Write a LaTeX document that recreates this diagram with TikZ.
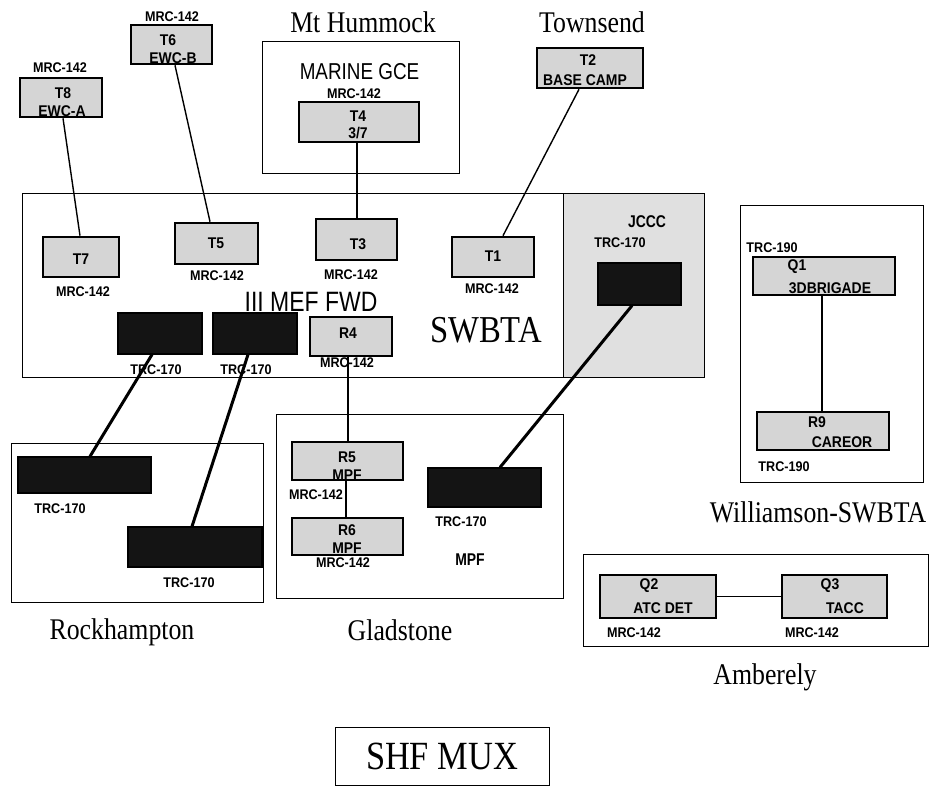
\documentclass[tikz,border=0pt]{standalone}
\usepackage{fontspec}
\setmainfont{Liberation Serif}
\setsansfont{Liberation Sans}
\newfontfamily\ttlfont[FakeStretch=0.86]{Liberation Serif}
\newfontfamily\lblfont[FakeStretch=0.9]{Liberation Sans}
\newfontfamily\bigsans[FakeStretch=0.82]{Liberation Sans}
\begin{document}
\begin{tikzpicture}[x=1pt,y=-1pt,
  gbox/.style={draw, line width=2.6pt, fill=gray!33, inner sep=0pt},
  dbox/.style={draw, line width=1.2pt, fill=black!92, inner sep=0pt},
  cont/.style={draw, line width=0.9pt, inner sep=0pt},
  jbox/.style={draw, line width=0.9pt, fill=gray!24, inner sep=0pt},
  lbl/.style={font=\lblfont\bfseries\fontsize{14}{16}\selectfont, inner sep=0pt},
  blbl/.style={font=\lblfont\bfseries\fontsize{15.5}{17}\selectfont, inner sep=0pt},
  ttl/.style={font=\ttlfont\fontsize{30}{32}\selectfont, inner sep=0pt},
  thinln/.style={line width=1.4pt},
  thickln/.style={line width=3pt}]
\useasboundingbox (0,0) rectangle (936,786);

% containers
\node[cont, minimum width=541pt, minimum height=184pt] (swbta) at (292.5,285) {};
\node[jbox, minimum width=141pt, minimum height=184pt] (jccc) at (633.5,285) {};
\node[cont, minimum width=197pt, minimum height=132pt] (mthum) at (360.5,107) {};
\node[cont, minimum width=183pt, minimum height=277pt] (will) at (831.5,343.5) {};
\node[cont, minimum width=252pt, minimum height=159pt] (rock) at (137,522.5) {};
\node[cont, minimum width=287pt, minimum height=184pt] (glad) at (419.5,506) {};
\node[cont, minimum width=345pt, minimum height=92pt] (amb) at (755.5,600) {};
\node[cont, minimum width=214pt, minimum height=58pt, font=\ttlfont\fontsize{40}{42}\selectfont] (shf) at (442,756) {SHF MUX};

% titles
\node[ttl] (tmt) at (363,22) {Mt Hummock};
\node[ttl] (ttown) at (592,22) {Townsend};
\node[ttl] (twill) at (818,512) {Williamson-SWBTA};
\node[ttl] (trock) at (122,632) {Rockhampton};
\node[ttl] (tglad) at (400,630) {Gladstone};
\node[ttl] (tamb) at (765,677) {Amberely};
\node[font=\ttlfont\fontsize{38}{40}\selectfont, inner sep=0pt] (tswbta) at (486,330) {SWBTA};
\node[font=\bigsans\fontsize{28}{30}\selectfont, inner sep=0pt] (tmef) at (311,302) {III MEF FWD};
\node[font=\bigsans\fontsize{23}{25}\selectfont, inner sep=0pt] (tgce) at (359.5,72) {MARINE GCE};
\node[font=\bigsans\bfseries\fontsize{17}{19}\selectfont, inner sep=0pt] (tjccc) at (647,222) {JCCC};
\node[font=\bigsans\bfseries\fontsize{17}{19}\selectfont, inner sep=0pt] (tmpf) at (470,560) {MPF};

% gray terminal boxes
\node[gbox, minimum width=82pt, minimum height=39pt] (t8) at (61,97.5) {};
\node[gbox, minimum width=81pt, minimum height=39pt] (t6) at (171.5,44.5) {};
\node[gbox, minimum width=120pt, minimum height=40pt] (t4) at (359,122) {};
\node[gbox, minimum width=106pt, minimum height=40pt] (t2) at (590,68) {};
\node[gbox, minimum width=76pt, minimum height=40pt] (t7) at (81,257) {};
\node[gbox, minimum width=83pt, minimum height=41pt] (t5) at (216.5,243.5) {};
\node[gbox, minimum width=81pt, minimum height=41pt] (t3) at (356.5,239.5) {};
\node[gbox, minimum width=82pt, minimum height=40pt] (t1) at (493,257) {};
\node[gbox, minimum width=82pt, minimum height=39pt] (r4) at (351,336.5) {};
\node[gbox, minimum width=142pt, minimum height=38pt] (q1) at (824,276) {};
\node[gbox, minimum width=132pt, minimum height=38pt] (r9) at (823,431) {};
\node[gbox, minimum width=111pt, minimum height=38pt] (r5) at (347.5,461) {};
\node[gbox, minimum width=111pt, minimum height=37pt] (r6) at (347.5,536.5) {};
\node[gbox, minimum width=116pt, minimum height=43pt] (q2) at (658,596.5) {};
\node[gbox, minimum width=105pt, minimum height=43pt] (q3) at (834.5,596.5) {};

% dark TRC-170 boxes
\node[dbox, minimum width=84pt, minimum height=41pt] (d1) at (160,333.5) {};
\node[dbox, minimum width=84pt, minimum height=41pt] (d2) at (255,333.5) {};
\node[dbox, minimum width=83pt, minimum height=42pt] (dj) at (639.5,284) {};
\node[dbox, minimum width=133pt, minimum height=36pt] (rd1) at (84.5,475) {};
\node[dbox, minimum width=134pt, minimum height=40pt] (rd2) at (195,547) {};
\node[dbox, minimum width=113pt, minimum height=39pt] (gd) at (484.5,487.5) {};

% texts inside boxes
\node[blbl] (t8a) at (63,93) {T8};
\node[blbl] (t8b) at (62,111) {EWC-A};
\node[blbl] (t6a) at (168,40) {T6};
\node[blbl] (t6b) at (173,58) {EWC-B};
\node[blbl] (t4a) at (358,116) {T4};
\node[blbl] (t4b) at (358,133) {3/7};
\node[blbl] (t2a) at (588,60) {T2};
\node[blbl] (t2b) at (585,80) {BASE CAMP};
\node[blbl] (t7a) at (81,259) {T7};
\node[blbl] (t5a) at (216,243) {T5};
\node[blbl] (t3a) at (358,244) {T3};
\node[blbl] (t1a) at (493,256) {T1};
\node[blbl] (r4a) at (348,333) {R4};
\node[blbl] (q1a) at (797,267) {Q1};
\node[blbl] (q1b) at (830,288) {3DBRIGADE};
\node[blbl] (r9a) at (817,422) {R9};
\node[blbl] (r9b) at (842,442) {CAREOR};
\node[blbl] (r5a) at (347,457) {R5};
\node[blbl] (r5b) at (347,475) {MPF};
\node[blbl] (r6a) at (347,530) {R6};
\node[blbl] (r6b) at (347,548) {MPF};
\node[blbl] (q2a) at (649,586) {Q2};
\node[blbl] (q2b) at (663,608) {ATC DET};
\node[blbl] (q3a) at (830,586) {Q3};
\node[blbl] (q3b) at (845,608) {TACC};

% equipment labels
\node[lbl] (l8) at (60,68) {MRC-142};
\node[lbl] (l6) at (172,17) {MRC-142};
\node[lbl] (l4) at (354,94) {MRC-142};
\node[lbl] (l7) at (83,292) {MRC-142};
\node[lbl] (l5) at (217,276) {MRC-142};
\node[lbl] (l3) at (351,275) {MRC-142};
\node[lbl] (l1) at (492,289) {MRC-142};
\node[lbl] (ld1) at (156,370) {TRC-170};
\node[lbl] (ld2) at (246,370) {TRC-170};
\node[lbl] (lr4) at (347,363) {MRC-142};
\node[lbl] (ldj) at (620,243) {TRC-170};
\node[lbl] (lq1) at (772,248) {TRC-190};
\node[lbl] (lr9) at (784,467) {TRC-190};
\node[lbl] (lrd1) at (60,509) {TRC-170};
\node[lbl] (lrd2) at (189,583) {TRC-170};
\node[lbl] (lr5) at (316,495) {MRC-142};
\node[lbl] (lr6) at (343,563) {MRC-142};
\node[lbl] (lgd) at (461,522) {TRC-170};
\node[lbl] (lq2) at (634,633) {MRC-142};
\node[lbl] (lq3) at (812,633) {MRC-142};

% connectors
\draw[thinln] ([xshift=2pt]t8.south) -- ([xshift=-1pt]t7.north);
\draw[thinln] ([xshift=3.5pt]t6.south) -- ([xshift=-6.5pt]t5.north);
\draw[thinln] ([xshift=-2pt]t4.south) -- ([xshift=0.5pt]t3.north);
\draw[thinln] ([xshift=-11pt]t2.south) -- ([xshift=10pt]t1.north);
\draw[thinln] ([xshift=-3pt]r4.south) -- ([xshift=0.5pt]r5.north);
\draw[thinln] ([xshift=-1.5pt]r5.south) -- ([xshift=-1.5pt]r6.north);
\draw[thinln] ([xshift=-2pt]q1.south) -- ([xshift=-1pt]r9.north);
\draw[thinln] (q2.east) -- (q3.west);
\draw[thickln] ([xshift=-8pt]d1.south) -- ([xshift=5.5pt]rd1.north);
\draw[thickln] ([xshift=-7pt]d2.south) -- ([xshift=-3pt]rd2.north);
\draw[thickln] ([xshift=-7.5pt]dj.south) -- ([xshift=15.5pt]gd.north);
\end{tikzpicture}
\end{document}
